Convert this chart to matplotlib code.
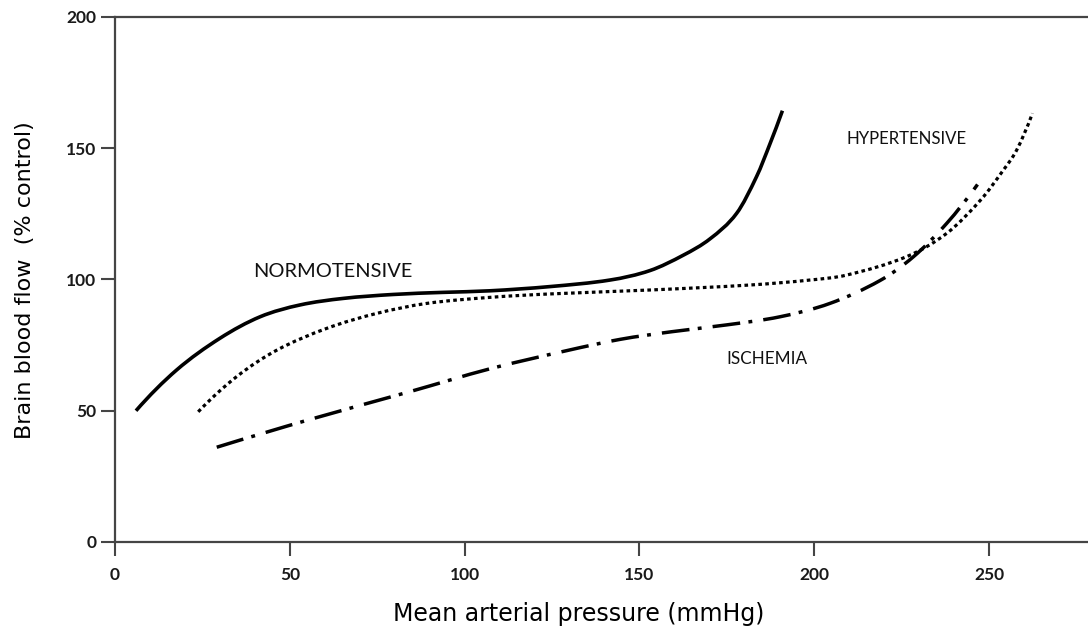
import matplotlib
matplotlib.use("Agg")
import matplotlib.pyplot as plt
from matplotlib.path import Path
from matplotlib.patches import PathPatch

# ---- data ----
normo_x = [6, 17.6, 30, 41.5, 52.9, 65.3, 79.6, 93.9, 107.3, 124.4, 141.6, 153,
           162.6, 170.2, 177.8, 183.5, 187.4, 190.9]
normo_y = [50, 65.5, 77.6, 85.8, 90.3, 92.8, 94.3, 95.1, 95.7, 97.3, 99.8, 103.4,
           109.3, 115.5, 125.2, 139.2, 151.9, 164.3]

hyper_x = [23.8, 34.8, 46.3, 60.6, 74.9, 89.2, 107.3, 124.4, 153, 181.6, 198.8,
           209.3, 226.4, 237.9, 247.6, 254.1, 257.9, 262.4]
hyper_y = [49.6, 63, 73.1, 81.4, 87.1, 90.9, 93.2, 94.5, 96, 97.9, 99.8,
           101.7, 108.7, 117.6, 130.3, 141.7, 149.3, 163.3]

isch_x = [29.1, 55.8, 84.4, 107.3, 129.2, 144.5, 159.2, 174.9, 190.2, 204.5,
          218.8, 228.4, 237.9, 246.7]
isch_y = [36.1, 46.7, 57.3, 66.0, 72.9, 77.2, 80.1, 82.7, 85.8, 90.9,
          99.6, 108.7, 121.4, 136.2]

x_ticks = [0, 50, 100, 150, 200, 250]
y_ticks = [0, 50, 100, 150, 200]

x_label = 'Mean arterial pressure (mmHg)'
y_label = 'Brain blood flow  (% control)'
curve_labels = ["NORMOTENSIVE", "HYPERTENSIVE", "ISCHEMIA"]
curve_label_x = [39.4, 209.3, 175.0]
curve_label_y = [100.8, 151.5, 67.7]


def smooth_path(xs, ys):
    """Cubic Hermite (Bezier) path through the read points."""
    n = len(xs)
    slopes = [0.0] * n
    for i in range(1, n - 1):
        slopes[i] = (ys[i + 1] - ys[i - 1]) / (xs[i + 1] - xs[i - 1])
    sec0 = (ys[1] - ys[0]) / (xs[1] - xs[0])
    secn = (ys[-1] - ys[-2]) / (xs[-1] - xs[-2])
    slopes[0] = 2 * sec0 - slopes[1]
    slopes[-1] = 2 * secn - slopes[-2]
    verts = [(xs[0], ys[0])]
    codes = [Path.MOVETO]
    for i in range(n - 1):
        h = xs[i + 1] - xs[i]
        c1 = (xs[i] + h / 3, ys[i] + slopes[i] * h / 3)
        c2 = (xs[i + 1] - h / 3, ys[i + 1] - slopes[i + 1] * h / 3)
        verts += [c1, c2, (xs[i + 1], ys[i + 1])]
        codes += [Path.CURVE4] * 3
    return Path(verts, codes)


plt.rcParams['lines.scale_dashes'] = False
FONT = ['Lato', 'DejaVu Sans']

fig = plt.figure(figsize=(10.88, 6.30), dpi=100)
ax = fig.add_axes([115 / 1088, 88 / 630, 1 - 115 / 1088, 525 / 630])

styles = [dict(lw=2.6, linestyle='-'),
          dict(lw=2.3, linestyle=(0, (2.6, 2.4))),
          dict(lw=2.5, linestyle=(0, (20, 6, 2.8, 8)))]
for (xs, ys), st in zip([(normo_x, normo_y), (hyper_x, hyper_y), (isch_x, isch_y)],
                        styles):
    ax.add_patch(PathPatch(smooth_path(xs, ys), fill=False, edgecolor='black',
                           capstyle='butt', joinstyle='round',
                           transform=ax.transData, **st))

ax.set_xlim(0, 278.3)
ax.set_ylim(0, 200)
ax.set_xticks(x_ticks)
ax.set_yticks(y_ticks)

spine_c = '#454545'
for s in ['left', 'bottom', 'top']:
    ax.spines[s].set_color(spine_c)
    ax.spines[s].set_linewidth(1.6)
ax.spines['right'].set_visible(False)
ax.tick_params(axis='both', direction='out', length=10, width=1.5, color=spine_c)
ax.tick_params(axis='x', pad=8)
ax.tick_params(axis='y', pad=3.5)
for lab in ax.get_xticklabels() + ax.get_yticklabels():
    lab.set_fontfamily(FONT)
    lab.set_fontweight('bold')
    lab.set_fontsize(12.5)
    lab.set_color('#1a1a1a')

label_sizes = [14.4, 12.1, 12.3]
for txt, x, y, fs in zip(curve_labels, curve_label_x, curve_label_y, label_sizes):
    ax.text(x, y, txt, family=FONT, fontsize=fs, ha='left', va='baseline',
            color='#111111')

fig.text(579 / 1088, 1 - 621 / 630, x_label, family=['DejaVu Sans'],
         fontsize=17, ha='center', va='baseline', color='black')
fig.text(25 / 1088, 1 - 280 / 630, y_label, family=['DejaVu Sans'],
         fontsize=16, ha='center', va='center', rotation=90, color='black')

fig.savefig('out.png', dpi=100)
